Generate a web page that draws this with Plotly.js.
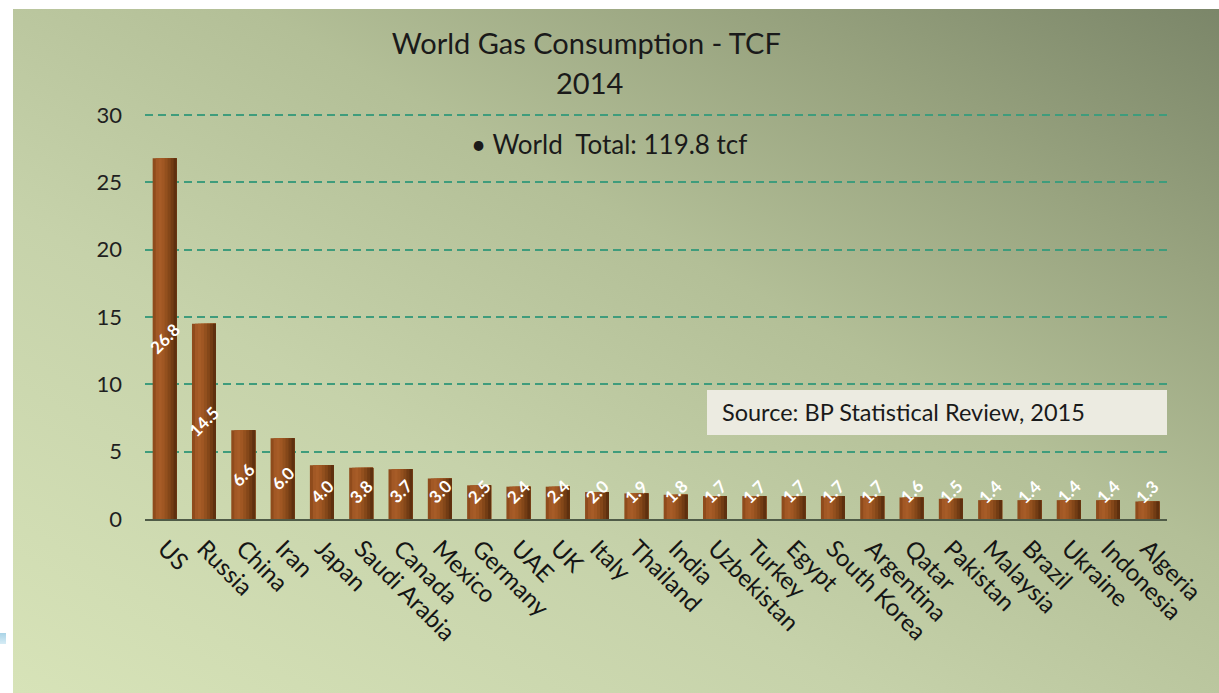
<!DOCTYPE html>
<html>
<head>
<meta charset="utf-8">
<script src="https://cdn.plot.ly/plotly-3.0.1.min.js"></script>
<style>
  html, body { margin: 0; padding: 0; background: #ffffff; width: 1219px; height: 693px; overflow: hidden; }
  #slide { position: absolute; left: 13px; top: 9px; width: 1206px; height: 684px;
    background: linear-gradient(to top right, #d7e3b8 0%, #c6d2aa 35%, #b3bf97 60%, #98a37f 80%, #7b8669 100%); }
  #chip { position: absolute; left: 0; top: 633px; width: 6px; height: 11px; background: linear-gradient(#a9d3e6, #d6ecf5); }
  #chart { position: absolute; left: 0; top: 0; width: 1219px; height: 693px; }
</style>
</head>
<body>
<div id="slide"></div>
<div id="chip"></div>
<div id="chart"></div>
<script>
// ---- Data ----
const countries = ["US","Russia","China","Iran","Japan","Saudi Arabia","Canada","Mexico","Germany","UAE","UK","Italy","Thailand","India","Uzbekistan","Turkey","Egypt","South Korea","Argentina","Qatar","Pakistan","Malaysia","Brazil","Ukraine","Indonesia","Algeria"];
const consumptionTcf = [26.8,14.5,6.6,6.0,4.0,3.8,3.7,3.0,2.5,2.4,2.4,2.0,1.9,1.8,1.7,1.7,1.7,1.7,1.7,1.6,1.5,1.4,1.4,1.4,1.4,1.3];
const yTickValues = [0,5,10,15,20,25,30];
const chartTitle = "World Gas Consumption - TCF";
const chartYear = "2014";
const totalNote = "\u2022 World  Total: 119.8 tcf";
const sourceNote = "Source: BP Statistical Review, 2015";

// ---- Styling ----
const barWidth = 0.61;
const stripColors = ['#8f4b1c','#a25825','#a75c27','#a05723','#93501e','#844719','#723c14','#5e300f'];
const font = 'Lato, "Open Sans", sans-serif';
const K = stripColors.length;
const M = { l: 145, r: 52, t: 111, b: 174 };
const W = 1219, H = 693;
const pw = W - M.l - M.r, ph = H - M.t - M.b;
const px2x = px => (px - M.l) / pw;
const py2y = py => (H - M.b - py) / ph;

// overlapping strips (each reaches the bar's right edge) to form a horizontal gradient without seams
const traces = stripColors.map((c, i) => ({
  type: 'bar',
  x: countries,
  y: consumptionTcf,
  width: countries.map(() => barWidth - i * barWidth / K),
  offset: countries.map(() => -barWidth / 2 + i * barWidth / K),
  marker: { color: c, line: { width: 0 } },
  hoverinfo: 'x+y',
  showlegend: false
}));

const labelAnnotations = countries.map((c, i) => ({
  x: c, y: Math.max(consumptionTcf[i] / 2, 2.05), xref: 'x', yref: 'y',
  text: consumptionTcf[i].toFixed(1), showarrow: false, textangle: -45,
  font: { family: font, size: 17, color: '#ffffff', weight: 'bold' }
}));

const layout = {
  width: W, height: H,
  margin: M,
  paper_bgcolor: 'rgba(0,0,0,0)',
  plot_bgcolor: 'rgba(0,0,0,0)',
  barmode: 'overlay',
  title: { text: chartTitle, font: { family: font, size: 29, color: '#1a1a1a' },
           x: 0.481, xref: 'container', xanchor: 'center', y: 1 - 44/693, yref: 'container', yanchor: 'middle' },
  xaxis: {
    type: 'category', tickangle: 45, showgrid: false, zeroline: false,
    showline: true, linecolor: '#4f5b47', linewidth: 2, ticks: '',
    tickfont: { family: font, size: 24, color: '#151515' },
    ticklabelstandoff: 4, range: [-0.5, countries.length - 0.5]
  },
  yaxis: {
    range: [0, 30.3], tickvals: yTickValues, ticktext: yTickValues.map(String),
    showgrid: true, gridcolor: '#3f9c7c', gridwidth: 2, griddash: '8px,5px',
    zeroline: false, showline: false, ticks: '',
    tickfont: { family: font, size: 22, color: '#1f1f1f' }, ticklabelstandoff: 22
  },
  shapes: [{
    type: 'rect', xref: 'paper', yref: 'paper',
    x0: px2x(707), x1: 1.0, y0: py2y(435), y1: py2y(390),
    fillcolor: '#ecebe1', line: { width: 0 }, layer: 'above'
  }],
  annotations: labelAnnotations.concat([
    { xref: 'paper', yref: 'paper', x: px2x(589), y: py2y(82), text: chartYear, showarrow: false,
      xanchor: 'center', yanchor: 'middle', font: { family: font, size: 29, color: '#1a1a1a' } },
    { xref: 'paper', yref: 'paper', x: px2x(609), y: py2y(144), text: totalNote, showarrow: false,
      xanchor: 'center', yanchor: 'middle', font: { family: font, size: 26, color: '#1a1a1a' } },
    { xref: 'paper', yref: 'paper', x: px2x(720), y: py2y(412), text: sourceNote, showarrow: false,
      xanchor: 'left', yanchor: 'middle', font: { family: font, size: 23.5, color: '#1a1a1a' } }
  ])
};

Plotly.newPlot('chart', traces, layout, { displayModeBar: false, staticPlot: true });
</script>
</body>
</html>
